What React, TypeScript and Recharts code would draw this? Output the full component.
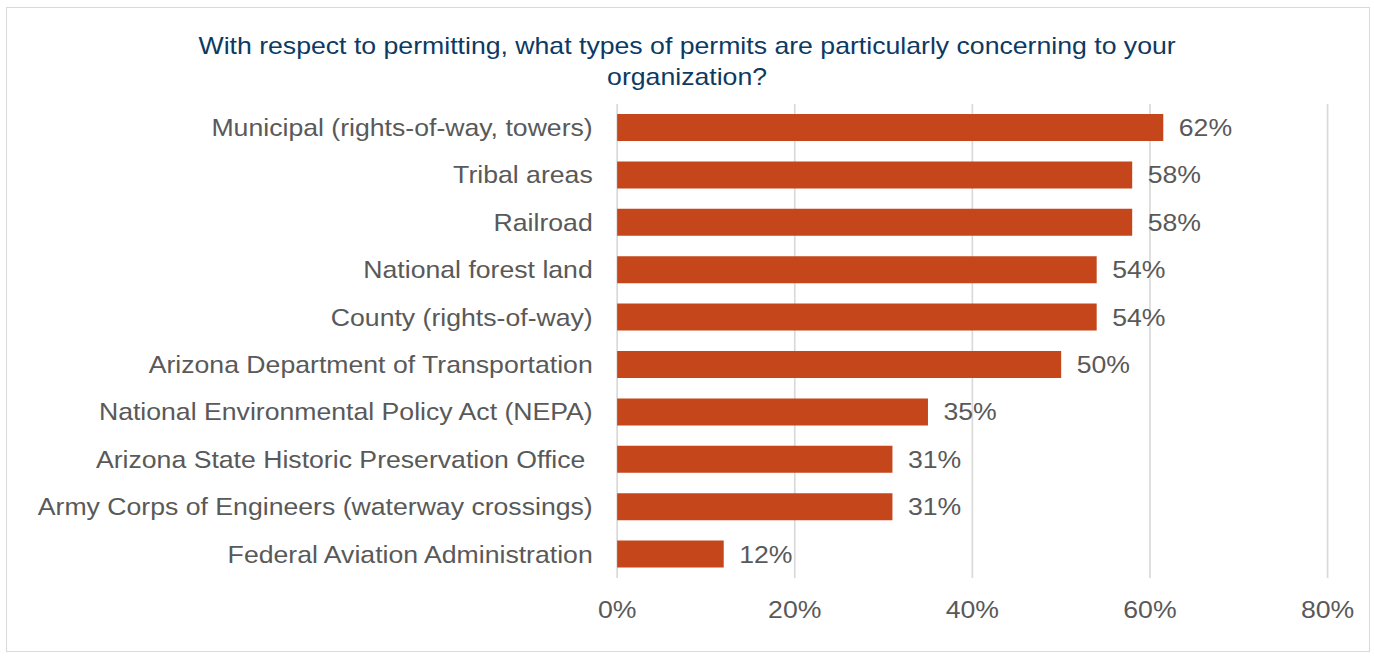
import React from 'react';
import { BarChart, Bar, XAxis, YAxis, CartesianGrid, LabelList } from 'recharts';

// survey question, share of respondents per permit type (in %)
const permitTypes = [
  'Municipal (rights-of-way, towers)',
  'Tribal areas',
  'Railroad',
  'National forest land',
  'County (rights-of-way)',
  'Arizona Department of Transportation',
  'National Environmental Policy Act (NEPA)',
  'Arizona State Historic Preservation Office\u00A0',
  'Army Corps of Engineers (waterway crossings)',
  'Federal Aviation Administration',
];
const shares = [61.5, 58, 58, 54, 54, 50, 35, 31, 31, 12];
const xTicks = [0, 20, 40, 60, 80];
const titleLines = [
  'With respect to permitting, what types of permits are particularly concerning to your',
  'organization?',
];

// the reference is stretched horizontally, so draw narrower and scale
const SX = 1.11;
const W = 1238;
const H = 656;
const FONT = '"Liberation Sans", Arial, sans-serif';
const GREY = '#595959';

const rows = permitTypes.map((name, i) => ({ name, value: shares[i] }));

const CategoryTick = (props: any) => {
  const { x, y, payload } = props;
  return (
    <text x={x} y={y} dy="0.35em" textAnchor="end" fill={GREY} fontSize={24} fontFamily={FONT}>
      {payload.value}
    </text>
  );
};

const PercentTick = (props: any) => {
  const { x, y, payload } = props;
  return (
    <text x={x} y={y + 40} textAnchor="middle" fill={GREY} fontSize={24} fontFamily={FONT}>
      {`${payload.value}%`}
    </text>
  );
};

const App: React.FC = () => {
  return (
    <div style={{ position: 'absolute', left: 0, top: 0, width: 1374, height: H, background: '#fff' }}>
      <div
        style={{
          position: 'absolute',
          left: 6,
          top: 7,
          width: 1364,
          height: 645,
          border: '1px solid #D9D9D9',
          boxSizing: 'border-box',
        }}
      />
      <div
        style={{
          position: 'absolute',
          left: 0,
          top: 0,
          width: W,
          height: H,
          transform: `scaleX(${SX})`,
          transformOrigin: '0 0',
        }}
      >
        <div
          style={{
            position: 'absolute',
            left: 0,
            top: 30,
            width: W,
            textAlign: 'center',
            fontFamily: FONT,
            fontSize: 24,
            lineHeight: '31px',
            color: '#0D3A62',
          }}
        >
          {titleLines.map((t) => (
            <div key={t}>{t}</div>
          ))}
        </div>
        <BarChart
          width={W}
          height={H}
          layout="vertical"
          data={rows}
          margin={{ top: 104, right: 42, bottom: 38, left: 0 }}
        >
          <CartesianGrid horizontal={false} stroke="#D9D9D9" strokeWidth={1.5} />
          <XAxis
            type="number"
            domain={[0, 80]}
            ticks={xTicks}
            axisLine={false}
            tickLine={false}
            tickSize={0}
            tickMargin={0}
            height={40}
            tick={<PercentTick />}
          />
          <YAxis
            type="category"
            dataKey="name"
            width={556}
            axisLine={false}
            tickLine={false}
            tickSize={0}
            tickMargin={22}
            interval={0}
            tick={<CategoryTick />}
          />
          <Bar dataKey="value" fill="#C4461A" barSize={27} isAnimationActive={false}>
            <LabelList
              dataKey="value"
              position="right"
              offset={14}
              fill={GREY}
              fontSize={24}
              fontFamily={FONT}
              formatter={(v: any) => `${Math.round(Number(v))}%`}
            />
          </Bar>
        </BarChart>
      </div>
    </div>
  );
};

export default App;
